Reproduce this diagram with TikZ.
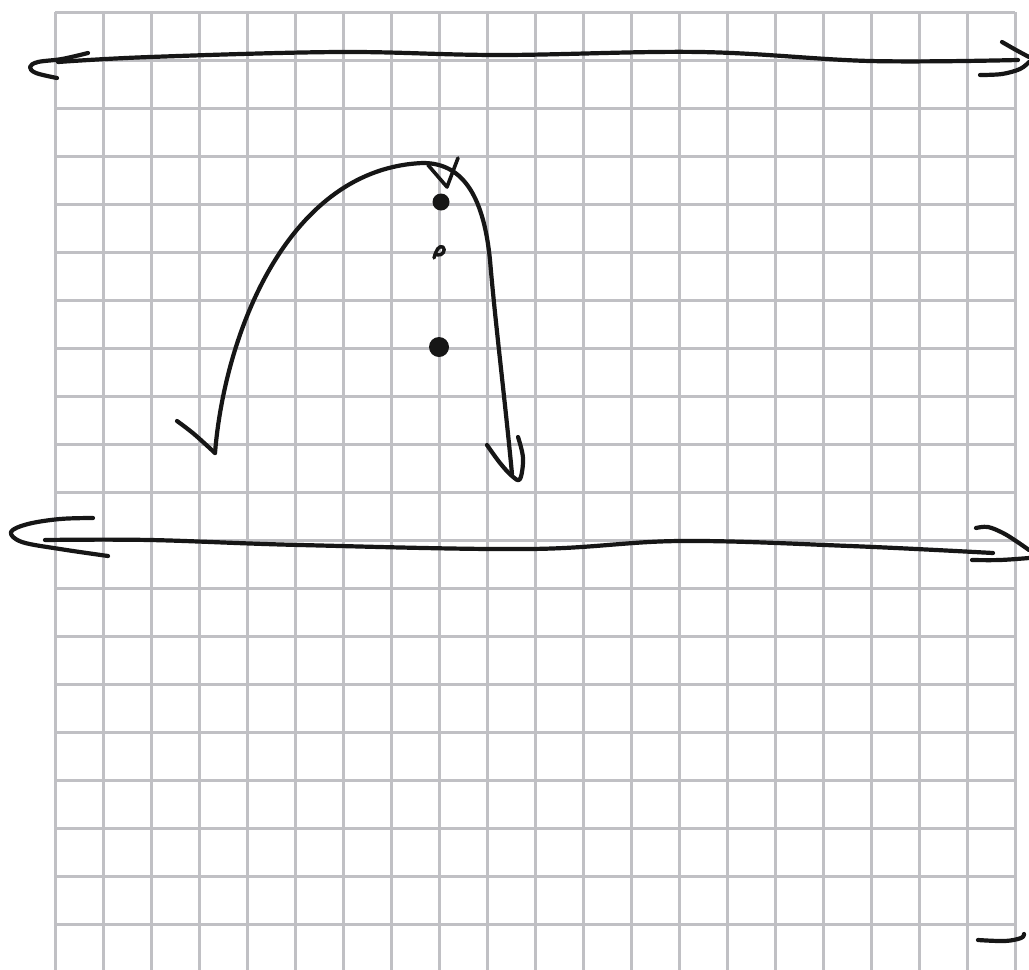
\documentclass[tikz,border=0pt]{standalone}
\usetikzlibrary{calc}
\definecolor{gridgray}{RGB}{192,192,196}
\definecolor{ink}{RGB}{22,22,22}
\tikzset{
  gridline/.style={draw=gridgray,line width=3pt},
  pen/.style={draw=ink,line width=4.2pt,line cap=round,line join=round},
  thinpen/.style={draw=ink,line width=3.6pt,line cap=round,line join=round},
}
\begin{document}
\begin{tikzpicture}[x=1pt,y=-1pt]
\useasboundingbox (0,0) rectangle (1029,970);
\fill[white] (0,0) rectangle (1029,970);
% grid
\foreach \i in {0,...,20} {
  \draw[gridline] ({55+48*\i},12) -- ({55+48*\i},970);
}
\foreach \j in {0,...,19} {
  \draw[gridline] (55,{12+48*\j}) -- (1015,{12+48*\j});
}
% top double arrow
\draw[pen] plot[smooth,tension=0.6] coordinates {(58,62) (150,57) (340,52) (500,55) (700,52) (870,61) (1018,60)};
\draw[pen] plot[smooth,tension=0.6] coordinates {(88,53) (62,59) (38,62) (30,67) (36,73) (57,78)};
\draw[pen] plot[smooth,tension=0.6] coordinates {(1002,42) (1016,50) (1029,57)};
\draw[pen] plot[smooth,tension=0.6] coordinates {(980,75) (1002,74) (1020,69) (1029,62)};
% middle double arrow
\draw[pen] plot[smooth,tension=0.6] coordinates {(45,540) (150,540) (300,545) (530,549) (680,541) (850,546) (993,553)};
\draw[pen] plot[smooth,tension=0.6] coordinates {(93,518) (60,519) (28,524) (11,532) (22,542) (60,549) (108,556)};
\draw[pen] plot[smooth,tension=0.6] coordinates {(976,528) (988,527) (1003,533) (1016,541) (1029,550)};
\draw[pen] plot[smooth,tension=0.6] coordinates {(972,560) (1000,560) (1029,558)};
% big curved arrow
\coordinate (ltip) at (215,453);
\coordinate (top) at (423,163);
\coordinate (rend) at (512,474);
\coordinate (rtip) at (520,479);
\draw[pen] (ltip) .. controls (225,330) and (290,168) .. (top)
  .. controls (465,163) and (484,200) .. (490,260)
  .. controls (495,320) and (505,400) .. (rend);
\draw[pen] plot[smooth,tension=0.6] coordinates {(177,421) (194,434) (ltip)};
\draw[pen] plot[smooth,tension=0.6] coordinates {(487,445) (500,463) (512,476) (rtip) (523,458) (518,437)};
% check mark
\draw[thinpen] (428,165) -- (447,187) -- (458,158);
% dots
\fill[ink] (441,202) circle (8.5);
\fill[ink] (439,347) circle (10);
\draw[ink,line width=3.4pt,line cap=round,line join=round] (434,258) .. controls (436,250) and (439,245) .. (443,247) .. controls (446,250) and (443,256) .. (437,255);
% bottom-right mark
\draw[pen] plot[smooth,tension=0.6] coordinates {(978,940) (1005,941) (1021,938) (1024,934)};
\end{tikzpicture}
\end{document}
